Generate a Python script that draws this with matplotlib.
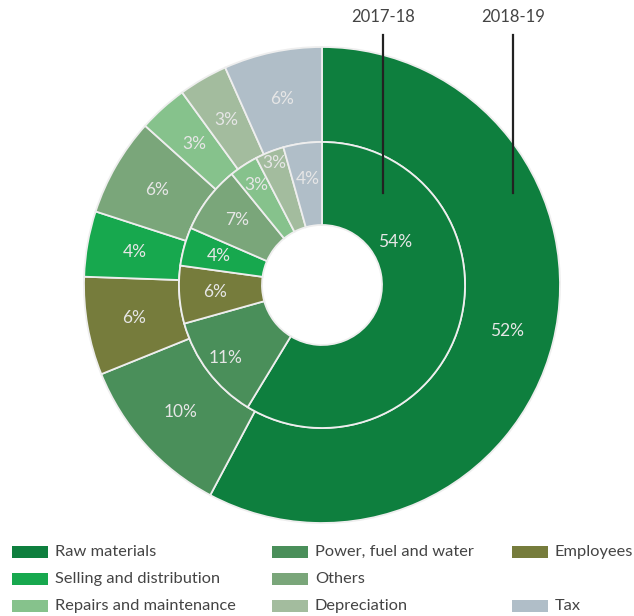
import matplotlib
matplotlib.use("Agg")
import matplotlib.pyplot as plt
from matplotlib.lines import Line2D
from matplotlib.patches import Rectangle
import numpy as np

plt.rcParams['font.family'] = ['Lato', 'DejaVu Sans']

categories = ["Raw materials", "Power, fuel and water", "Employees",
              "Selling and distribution", "Others", "Repairs and maintenance",
              "Depreciation", "Tax"]
fy19 = [52, 10, 6, 4, 6, 3, 3, 6]   # outer ring, 2018-19
fy18 = [54, 11, 6, 4, 7, 3, 3, 4]   # inner ring, 2017-18
colors = ["#0e7f3e", "#4a8f5a", "#767c3c", "#17a84e", "#7aa67a",
          "#86c28c", "#a3bc9e", "#b0bec8"]

W, H = 634, 616
cx, cy, R = 322, 285, 238   # pixel centre / outer radius
fig = plt.figure(figsize=(W / 100, H / 100), dpi=100)
ax = fig.add_axes([(cx - R) / W, (H - cy - R) / H, 2 * R / W, 2 * R / H])
ax.axis('off')

r_mid = 143 / R
r_hole = 60 / R
edge = dict(edgecolor='#eeeeee', linewidth=1.3)

outer, _ = ax.pie(fy19, radius=1, colors=colors, startangle=90, counterclock=False,
                  wedgeprops=dict(width=1 - r_mid, **edge))
inner, _ = ax.pie(fy18, radius=r_mid, colors=colors, startangle=90, counterclock=False,
                  wedgeprops=dict(width=r_mid - r_hole, **edge))
ax.set_xlim(-1, 1)
ax.set_ylim(-1, 1)
ax.set_aspect('equal')

lab_col = '#e6e6e6'


def put_labels(wedges, vals, r, tweak=None):
    tweak = tweak or {}
    for i, (w, v) in enumerate(zip(wedges, vals)):
        a = (w.theta1 + w.theta2) / 2
        rr = r
        if i in tweak:
            a_t, rr = tweak[i]
            a = a if a_t is None else a_t
        a = np.deg2rad(a)
        ax.text(rr * np.cos(a), rr * np.sin(a), f"{v}%", ha='center', va='center',
                color=lab_col, fontsize=12.5)


put_labels(outer, fy19, 0.80)
# inner labels: the big one sits up-right, the thin slices are pushed outward
put_labels(inner, fy18, 0.45, {0: (30.5, 0.357), 1: (None, 0.51),
                               5: (None, 0.50), 6: (None, 0.55)})

# year markers
for x, name in [(383, "2017-18"), (513, "2018-19")]:
    fig.add_artist(Line2D([x / W, x / W], [1 - 35 / H, 1 - 193 / H], color='#222222', lw=1.6))
    fig.text(x / W, 1 - 17 / H, name, ha='center', va='center', color='#444444', fontsize=12)

# legend, 3 columns, row-major
slots = [0, 1, 2, 3, 4, None, 5, 6, 7]
col_x = [12, 272, 512]
row_y = [552, 579, 606]
for k, idx in enumerate(slots):
    if idx is None:
        continue
    x0 = col_x[k % 3]
    y0 = row_y[k // 3]
    fig.add_artist(Rectangle((x0 / W, 1 - (y0 + 6) / H), 36 / W, 12 / H,
                             transform=fig.transFigure, color=colors[idx], lw=0))
    fig.text((x0 + 43) / W, 1 - y0 / H, categories[idx], ha='left', va='center',
             color='#444444', fontsize=11.8)

fig.savefig("out.png", dpi=100)
